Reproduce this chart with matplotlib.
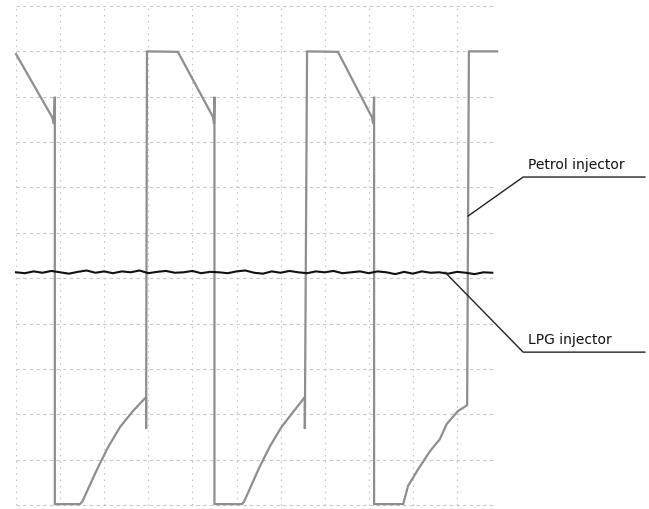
import matplotlib.pyplot as plt
import numpy as np

# scope screen, in grid divisions (x: time, y: level)
grid_x = [0, 1, 2, 3, 4, 5, 6, 7, 8, 9, 10]
grid_y = [0, 1, 2, 3, 4, 5, 6, 7, 8, 9, 10, 11]
grid_right = 10.86
grid_top = 11

# petrol injector trace
petrol_x = [0.00, 0.82, 0.86, 0.88, 0.88, 1.45, 1.50, 1.84, 2.09, 2.36, 2.65, 2.95, 2.95, 2.97,
            3.67, 4.47, 4.49, 4.50, 4.50, 5.12, 5.17, 5.50, 5.75, 6.02, 6.30, 6.55, 6.55, 6.60,
            7.30, 8.07, 8.10, 8.12, 8.12, 8.78, 8.89, 9.12, 9.39, 9.61, 9.77, 10.02, 10.23, 10.27,
            10.91]
petrol_y = [9.94, 8.55, 8.40, 9.00, 0.02, 0.02, 0.07, 0.79, 1.28, 1.72, 2.07, 2.38, 1.68, 10.00,
            9.99, 8.55, 8.40, 9.00, 0.02, 0.02, 0.07, 0.79, 1.28, 1.72, 2.07, 2.38, 1.68, 10.00,
            9.99, 8.55, 8.40, 9.00, 0.02, 0.02, 0.42, 0.79, 1.19, 1.45, 1.79, 2.07, 2.20, 10.00,
            10.00]

# LPG injector trace (flat with a little noise)
lpg_x = np.arange(0, 10.95, 0.2)
lpg_y = [5.13, 5.11, 5.15, 5.12, 5.16, 5.13, 5.10, 5.14, 5.17, 5.12, 5.15, 5.11, 5.15, 5.13,
         5.17, 5.11, 5.14, 5.16, 5.12, 5.13, 5.16, 5.11, 5.14, 5.13, 5.11, 5.15, 5.17, 5.12,
         5.10, 5.15, 5.12, 5.16, 5.13, 5.11, 5.15, 5.13, 5.16, 5.11, 5.13, 5.15, 5.11, 5.15,
         5.13, 5.09, 5.14, 5.10, 5.15, 5.12, 5.13, 5.10, 5.14, 5.12, 5.09, 5.13, 5.12]

labels = ["Petrol injector", "LPG injector"]
petrol_leader_x = [10.25, 11.50, 14.26]
petrol_leader_y = [6.37, 7.23, 7.23]
lpg_leader_x = [9.73, 11.50, 14.26]
lpg_leader_y = [5.13, 3.37, 3.37]

fig = plt.figure(figsize=(6.49, 5.10), dpi=100)
ax = fig.add_axes([0, 0, 1, 1])
ax.set_xlim(-0.363, 14.354)
ax.set_ylim(-0.088, 11.155)
ax.axis("off")

ax.hlines(grid_y, 0, grid_right, colors="#c8c8c8", linewidth=0.8, linestyles=(0, (3, 3)))
ax.vlines(grid_x, 0, grid_top, colors="#c8c8c8", linewidth=0.8, linestyles=(0, (1.5, 4)))

ax.plot(petrol_x, petrol_y, color="#8e8e8e", linewidth=1.6, solid_joinstyle="miter")
ax.plot(lpg_x[:len(lpg_y)], lpg_y, color="#111111", linewidth=1.5)

ax.plot(petrol_leader_x, petrol_leader_y, color="#222222", linewidth=1.0)
ax.plot(lpg_leader_x, lpg_leader_y, color="#222222", linewidth=1.0)
ax.text(11.61, 7.43, labels[0], fontsize=10, color="#111111", va="baseline")
ax.text(11.61, 3.57, labels[1], fontsize=10, color="#111111", va="baseline")

fig.savefig("out.png", dpi=100)
